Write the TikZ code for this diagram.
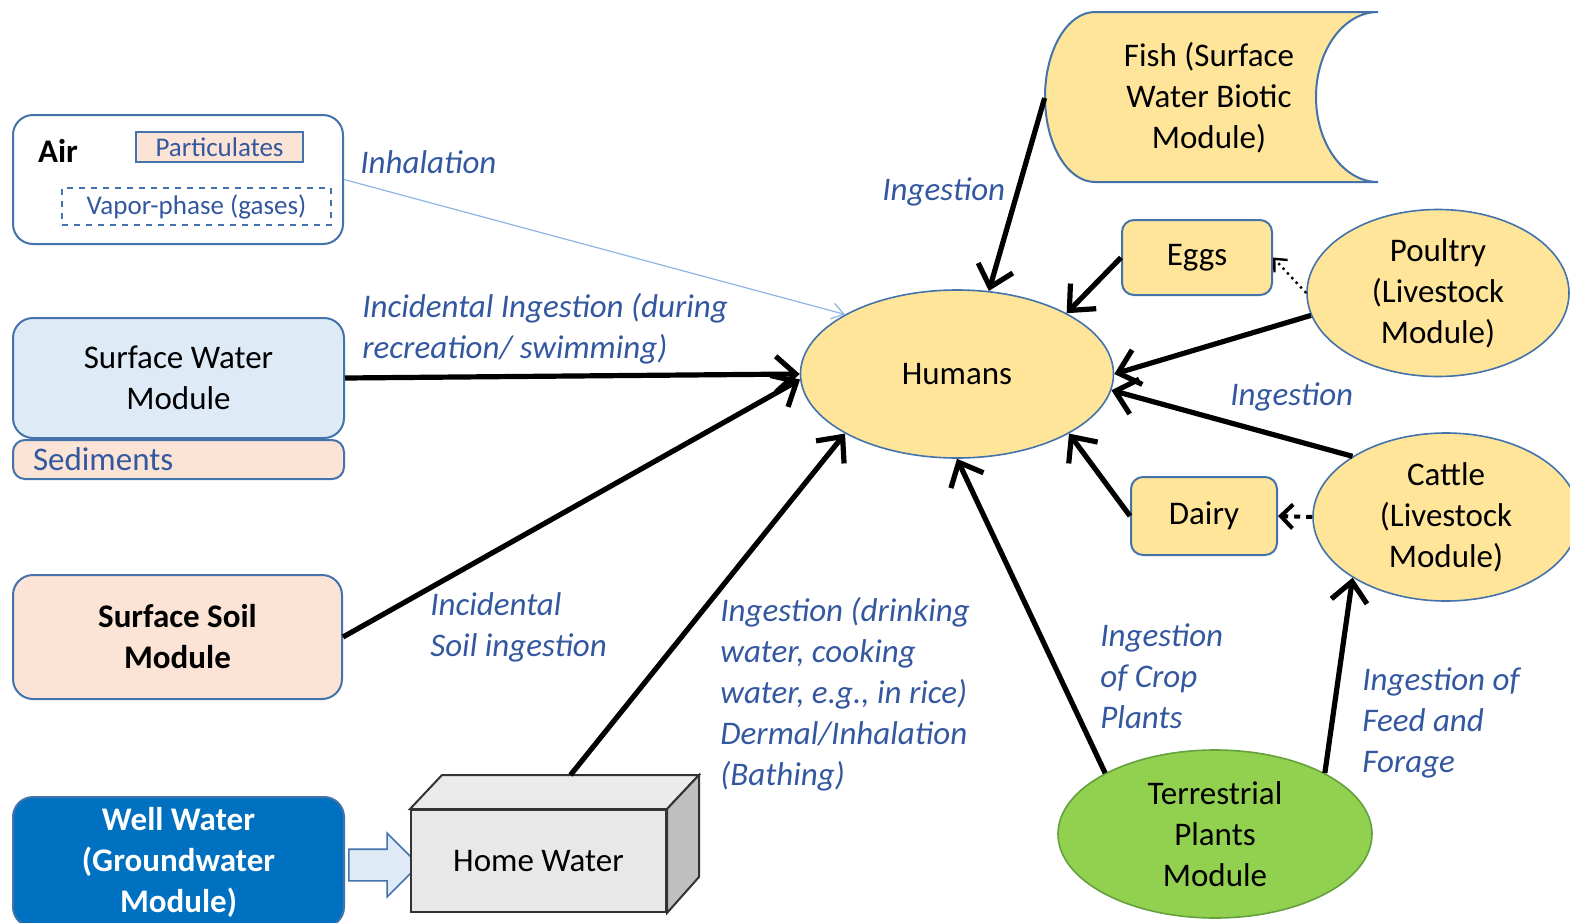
\documentclass[tikz,border=0pt]{standalone}
\usepackage{fontspec}
\setmainfont{Carlito}
\usepackage{tikz}
\usetikzlibrary{arrows.meta, positioning, calc, shapes.geometric, shapes.arrows}

\definecolor{bord}{RGB}{68,114,170}
\definecolor{lblue}{RGB}{52,88,160}
\definecolor{hum}{RGB}{255,229,153}
\definecolor{peach}{RGB}{251,228,213}
\definecolor{swfill}{RGB}{222,235,247}
\definecolor{well}{RGB}{0,112,192}
\definecolor{plant}{RGB}{146,208,80}
\definecolor{plantbord}{RGB}{100,160,60}
\definecolor{thinline}{RGB}{141,180,226}

\tikzset{
  every node/.style={font=\fontsize{16.5}{20.5}\selectfont},
  modbox/.style={draw=bord, line width=1pt, rounded corners=10pt, align=center},
  smallbox/.style={draw=bord, line width=1pt, rounded corners=6pt, fill=hum, inner sep=0},
  hubell/.style={ellipse, draw=bord, line width=0.8pt, fill=hum, align=center, inner sep=0},
  lbl/.style={text=lblue, font=\fontsize{16.5}{20.5}\selectfont\itshape, align=left, anchor=west, inner sep=0, yshift=-1.5pt},
  flow/.style={-{Straight Barb[length=10pt,width=18pt]}, line width=2.6pt},
}

\begin{document}
\begin{tikzpicture}[x=0.5pt, y=-0.5pt]
\useasboundingbox (0,0) rectangle (1570,922);

% left column: source modules
\node[modbox, fill=white, minimum width=165pt, minimum height=64.5pt] (air) at (178,179.5) {};
\node[font=\fontsize{16.5}{20.5}\selectfont\bfseries] (airname) at (58,151) {Air};
\node[draw=bord, line width=1pt, fill=peach, minimum width=83.5pt, minimum height=15pt, inner sep=0,
  text=lblue, font=\fontsize{13.5}{15}\selectfont] (part) at (219.5,147) {Particulates};
\node[draw=bord, line width=1pt, dashed, minimum width=134.5pt, minimum height=18.5pt, inner sep=0,
  text=lblue, font=\fontsize{13.5}{15}\selectfont] (vap) at (196.5,206.5) {Vapor-phase (gases)};

\node[modbox, fill=swfill, minimum width=165.5pt, minimum height=60pt] (sw) at (178.5,378) {Surface Water\\Module};
\node[modbox, rounded corners=6pt, fill=peach, minimum width=165.5pt, minimum height=19.5pt,
  inner xsep=10pt, inner ysep=0pt, text width=145.5pt, align=left, text=lblue] (sed) at (178.5,459.5) {Sediments};
\node[modbox, fill=peach, minimum width=164.5pt, minimum height=62pt,
  font=\fontsize{16.5}{20.5}\selectfont\bfseries] (soil) at (177.5,637) {Surface Soil\\Module};
\node[modbox, draw=bord, fill=well, text=white, minimum width=165.5pt, minimum height=65pt,
  font=\fontsize{16.5}{20.5}\selectfont\bfseries] (well) at (178.5,862) {Well Water\\(Groundwater\\Module)};

% home water box
\node[single arrow, draw=bord, line width=0.8pt, fill=swfill, minimum width=31pt, minimum height=35pt,
  single arrow head extend=8pt, inner sep=7.5pt] (pipe) at (376,865) {};
\node[draw=black!80, line width=1pt, fill=black!9, minimum width=127.5pt, minimum height=51pt] (hw) at (538.5,861) {Home Water};
\draw[black!80, line width=1pt, fill=black!8] (hw.north west) -- ++(32,-34) -- ($(hw.north east)+(32,-34)$) -- (hw.north east) -- cycle;
\draw[black!80, line width=1pt, fill=black!25] (hw.north east) -- ++(32,-34) -- ++(0,102) -- (hw.south east) -- cycle;
\coordinate (hwtop) at ($(hw.north)+(32,-34)$);

% receptors
\node[hubell, minimum width=156.5pt, minimum height=84pt] (hum) at (957,374) {Humans};

\draw[bord, line width=1pt, fill=hum] (1378,12) -- (1095,12)
  arc[start angle=90, end angle=270, x radius=25pt, y radius=42.5pt] -- (1378,182)
  arc[start angle=270, end angle=90, x radius=31pt, y radius=42.5pt] -- cycle;
\node[align=center, minimum width=164pt, minimum height=85pt, inner sep=0] (fish) at (1209,98) {Fish (Surface\\Water Biotic\\Module)};

\node[smallbox, minimum width=75pt, minimum height=37.5pt] (eggs) at (1197,257.5) {Eggs};
\node[smallbox, minimum width=73pt, minimum height=39pt] (dairy) at (1204,516) {Dairy};
\node[hubell, minimum width=131pt, minimum height=83.5pt] (poul) at (1438,293) {Poultry\\(Livestock\\Module)};
\node[hubell, minimum width=133pt, minimum height=84pt] (cat) at (1446,517) {Cattle\\(Livestock\\Module)};
\node[hubell, draw=plantbord, fill=plant, minimum width=157pt, minimum height=84pt] (terr) at (1215,834) {Terrestrial\\Plants\\Module};

% pathways
\draw[thinline, line width=0.6pt, -{Straight Barb[length=6pt,width=8pt]}] (air.east) -- (hum.152);
\draw[flow] (sw.east) -- (hum.180);
\draw[flow] (soil.east) -- (hum.182);
\draw[flow] (hwtop) -- (hum.208);
\draw[flow] (fish.west) -- (hum.69);
\draw[flow] (eggs.west) -- (hum.29);
\draw[flow] (poul.190) -- (hum.0);
\draw[flow] (cat.147) -- (hum.354);
\draw[flow] (dairy.west) -- (hum.332);
\draw[flow] (terr.151) -- (hum.270);
\draw[flow] (terr.29) -- (cat.213);
\draw[dotted, line width=1.2pt, -{Straight Barb[length=5pt,width=9pt]}] (poul.west) -- (eggs.east);
\draw[dashed, line width=2pt, -{Straight Barb[length=6pt,width=12pt]}] (cat.west) -- (dairy.east);

% pathway labels
\node[lbl] (linh) at (360,159) {Inhalation};
\node[lbl] (lrec) at (362,326) {Incidental Ingestion (during\\recreation/ swimming)};
\node[lbl] (lsoil) at (430,624) {Incidental\\Soil ingestion};
\node[lbl] (ldrink) at (720,691) {Ingestion (drinking\\water, cooking\\water, e.g., in rice)\\Dermal/Inhalation\\(Bathing)};
\node[lbl] (lfish) at (882,189) {Ingestion};
\node[lbl] (llive) at (1230,394) {Ingestion};
\node[lbl] (lcrop) at (1100,673) {Ingestion\\of Crop\\Plants};
\node[lbl] (lfeed) at (1362,720) {Ingestion of\\Feed and\\Forage};
\end{tikzpicture}
\end{document}
